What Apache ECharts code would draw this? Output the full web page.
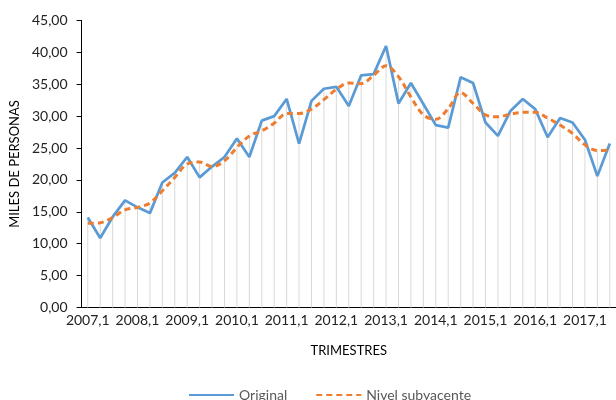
<!DOCTYPE html>
<html>
<head>
<meta charset="utf-8">
<script src="https://cdn.jsdelivr.net/npm/echarts@6/dist/echarts.min.js"></script>
<style>
  html, body { margin: 0; padding: 0; background: #fff; }
  #chart { width: 616px; height: 400px; }
</style>
</head>
<body>
<div id="chart"></div>
<script>
// trimestres 2007,1 .. 2017,3
var trimestres = ['2007,1','2007,2','2007,3','2007,4','2008,1','2008,2','2008,3','2008,4',
  '2009,1','2009,2','2009,3','2009,4','2010,1','2010,2','2010,3','2010,4',
  '2011,1','2011,2','2011,3','2011,4','2012,1','2012,2','2012,3','2012,4',
  '2013,1','2013,2','2013,3','2013,4','2014,1','2014,2','2014,3','2014,4',
  '2015,1','2015,2','2015,3','2015,4','2016,1','2016,2','2016,3','2016,4',
  '2017,1','2017,2','2017,3'];

var original = [14.1, 10.9, 14.2, 16.8, 15.7, 14.8, 19.6, 21.1, 23.6, 20.4,
  22.1, 23.6, 26.5, 23.6, 29.3, 30.0, 32.7, 25.7, 32.4, 34.3,
  34.6, 31.6, 36.4, 36.6, 41.0, 32.0, 35.2, 31.9, 28.6, 28.2,
  36.1, 35.2, 29.0, 26.9, 30.8, 32.7, 31.1, 26.7, 29.7, 29.0,
  26.3, 20.6, 25.7];

var nivel = [13.2, 13.3, 14.1, 15.3, 15.7, 16.4, 18.3, 20.4, 22.5, 22.8,
  22.1, 23.0, 25.1, 26.9, 27.7, 28.9, 30.4, 30.4, 31.1, 32.6,
  34.2, 35.2, 35.1, 36.4, 37.9, 36.2, 33.0, 30.2, 29.5, 31.2,
  33.7, 32.0, 30.2, 29.9, 30.3, 30.6, 30.6, 29.7, 28.6, 27.3,
  25.5, 24.6, 24.7];

// lineas de caida: hasta el punto mas alto
var caida = []
for (var i = 0; i < original.length; ++i) {
    caida.push(Math.max(original[i], nivel[i]))
}

var fuente = 'Lato, "Open Sans", sans-serif'

var option = {
    animation: false,
    textStyle: { fontFamily: fuente },
    grid: { left: 80.7, right: -7.4, top: 20.5, bottom: 92.5, containLabel: false },
    legend: {
        data: ['Original', 'Nivel subyacente'],
        left: 183,
        top: 383,
        itemWidth: 45,
        itemHeight: 14,
        itemGap: 28,
        itemStyle: { color: 'transparent', borderWidth: 0, opacity: 0 },
        textStyle: { fontFamily: fuente, fontSize: 14, color: '#595959' }
    },
    xAxis: {
        type: 'category',
        data: trimestres,
        boundaryGap: true,
        name: 'TRIMESTRES',
        nameLocation: 'middle',
        nameGap: 37,
        nameTextStyle: { fontFamily: fuente, fontSize: 13, color: '#000' },
        axisLine: { lineStyle: { color: '#000', width: 1 } },
        axisTick: { interval: 3, length: 5, lineStyle: { color: '#000' } },
        axisLabel: { interval: 3, margin: 6, fontFamily: fuente, fontSize: 14, color: '#222' },
        splitLine: { show: false }
    },
    yAxis: {
        type: 'value',
        min: 0,
        max: 45,
        interval: 5,
        name: 'MILES DE PERSONAS',
        nameLocation: 'middle',
        nameGap: 54,
        nameTextStyle: { fontFamily: fuente, fontSize: 13, color: '#000' },
        axisLine: { show: true, lineStyle: { color: '#000', width: 1 } },
        axisTick: { show: true, length: 5, lineStyle: { color: '#000' } },
        axisLabel: {
            margin: 14,
            fontFamily: fuente,
            fontSize: 14,
            color: '#222',
            formatter: function (v) { return v.toFixed(2).replace('.', ',') }
        },
        splitLine: { show: false }
    },
    series: [
        {
            name: 'caida',
            type: 'bar',
            data: caida,
            barWidth: 1,
            itemStyle: { color: '#d9d9d9' },
            silent: true,
            z: 1
        },
        {
            name: 'Original',
            type: 'line',
            data: original,
            symbol: 'none',
            lineStyle: { color: '#5b9bd5', width: 2.75 },
            itemStyle: { color: '#5b9bd5' },
            z: 3
        },
        {
            name: 'Nivel subyacente',
            type: 'line',
            data: nivel,
            symbol: 'none',
            smooth: 0.35,
            lineStyle: { color: '#ed7d31', width: 3, type: [6, 4] },
            itemStyle: { color: '#ed7d31' },
            z: 4
        }
    ]
};

var chart = echarts.init(document.getElementById('chart'));
chart.setOption(option);
</script>
</body>
</html>
